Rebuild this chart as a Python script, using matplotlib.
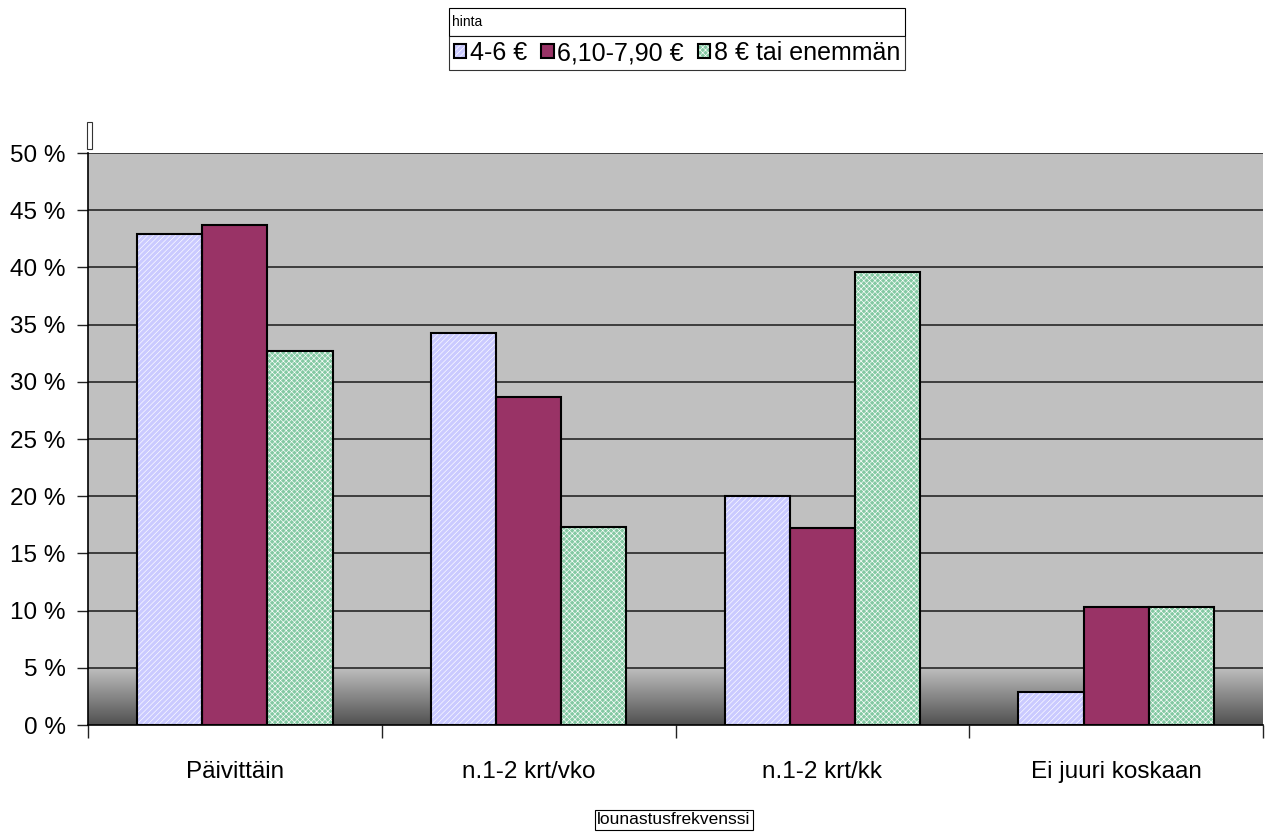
import numpy as np
import matplotlib
matplotlib.use("Agg")
import matplotlib.pyplot as plt
from matplotlib.patches import Rectangle
from matplotlib.legend_handler import HandlerTuple
from matplotlib.colors import LinearSegmentedColormap

plt.rcParams['font.family'] = ['Liberation Sans', 'DejaVu Sans']
plt.rcParams['hatch.linewidth'] = 0.45

categories = ["Päivittäin", "n.1-2 krt/vko", "n.1-2 krt/kk", "Ei juuri koskaan"]
series_names = ["4-6 €", "6,10-7,90 €", "8 € tai enemmän"]
price_low = [42.9, 34.3, 20.0, 2.9]
price_mid = [43.7, 28.7, 17.2, 10.3]
price_high = [32.7, 17.3, 39.6, 10.3]
yticks = [0, 5, 10, 15, 20, 25, 30, 35, 40, 45, 50]
legend_title = "hinta"
xlabel = "lounastusfrekvenssi"

series = [price_low, price_mid, price_high]
faces = ["#CACAFF", "#993366", "#84C9A3"]
hatches = ["//////", None, "xxxxxx"]

W, H = 1269, 834
fig = plt.figure(figsize=(W / 100, H / 100), dpi=100)
ax = fig.add_axes([88 / W, (H - 725) / H, (1263 - 88) / W, (725 - 153) / H])

ax.set_xlim(-0.5, 3.5)
ax.set_ylim(0, 50)
ax.set_facecolor("#C0C0C0")

# dark gradient at the bottom of the plot area
grad = np.linspace(0, 1, 256).reshape(-1, 1)
cmap = LinearSegmentedColormap.from_list("g", ["#505050", "#C0C0C0"])
ax.imshow(grad, extent=(-0.5, 3.5, 0, 5), origin="lower", cmap=cmap,
          aspect="auto", zorder=0.5, interpolation="bicubic")

for y in yticks[1:]:
    ax.axhline(y, color="#1a1a1a", lw=1.1, zorder=1)

x = np.arange(len(categories))
w = 0.222
handles = []
for i, vals in enumerate(series):
    pos = x + (i - 1) * w
    fill = ax.bar(pos, vals, w, color=faces[i], hatch=hatches[i],
                  edgecolor="white" if hatches[i] else faces[i], lw=0, zorder=2)
    outline = ax.bar(pos, vals, w, fill=False, edgecolor="black", lw=1.5, zorder=3)
    handles.append((fill.patches[0], outline.patches[0]))

ax.set_yticks(yticks)
ax.set_yticklabels([f"{v} %" for v in yticks])
ax.set_xticks(x)
ax.set_xticklabels(categories)
ax.set_xticks([-0.5, 0.5, 1.5, 2.5, 3.5], minor=True)
ax.tick_params(axis="x", which="major", length=0, pad=26, labelsize=17.5)
ax.tick_params(axis="x", which="minor", length=9, width=1, direction="out", color="#222222")
ax.tick_params(axis="y", length=8, width=1, pad=8, labelsize=17.5, color="#222222")
for s in ["top", "right"]:
    ax.spines[s].set_visible(False)
for s in ["left", "bottom"]:
    ax.spines[s].set_color("black")
    ax.spines[s].set_linewidth(1.2)

# empty value-axis title frame
fig.patches.append(Rectangle((87 / W, (H - 149) / H), 5 / W, 27 / H,
                             transform=fig.transFigure, fill=True, facecolor="white",
                             edgecolor="#333333", lw=0.8))

# category-axis title in a frame
fig.text(674 / W, (H - 820) / H, xlabel, ha="center", va="center", fontsize=12.5,
         bbox=dict(boxstyle="square,pad=0.14", fc="white", ec="black", lw=0.8))

leg = fig.legend(handles, series_names, handler_map={tuple: HandlerTuple(ndivide=1)},
                 loc="upper center", bbox_to_anchor=(677 / W, 1 - 36 / H), ncol=3,
                 fontsize=18, frameon=True, fancybox=False, edgecolor="black",
                 handlelength=0.5, handleheight=0.5, handletextpad=0.15,
                 columnspacing=0.55, borderpad=0.2, borderaxespad=0)
leg.get_frame().set_linewidth(0.8)

# title row of the legend, as wide as the legend box
fig.canvas.draw()
lb = leg.get_window_extent(fig.canvas.get_renderer())
top = H - 8
fig.patches.append(Rectangle((lb.x0 / W, lb.y1 / H), (lb.x1 - lb.x0) / W, (top - lb.y1) / H,
                             transform=fig.transFigure, facecolor="white",
                             edgecolor="black", lw=0.8))
fig.text((lb.x0 + 3) / W, ((top + lb.y1) / 2) / H, legend_title, fontsize=10,
         ha="left", va="center")

fig.savefig("out.png", dpi=100)
